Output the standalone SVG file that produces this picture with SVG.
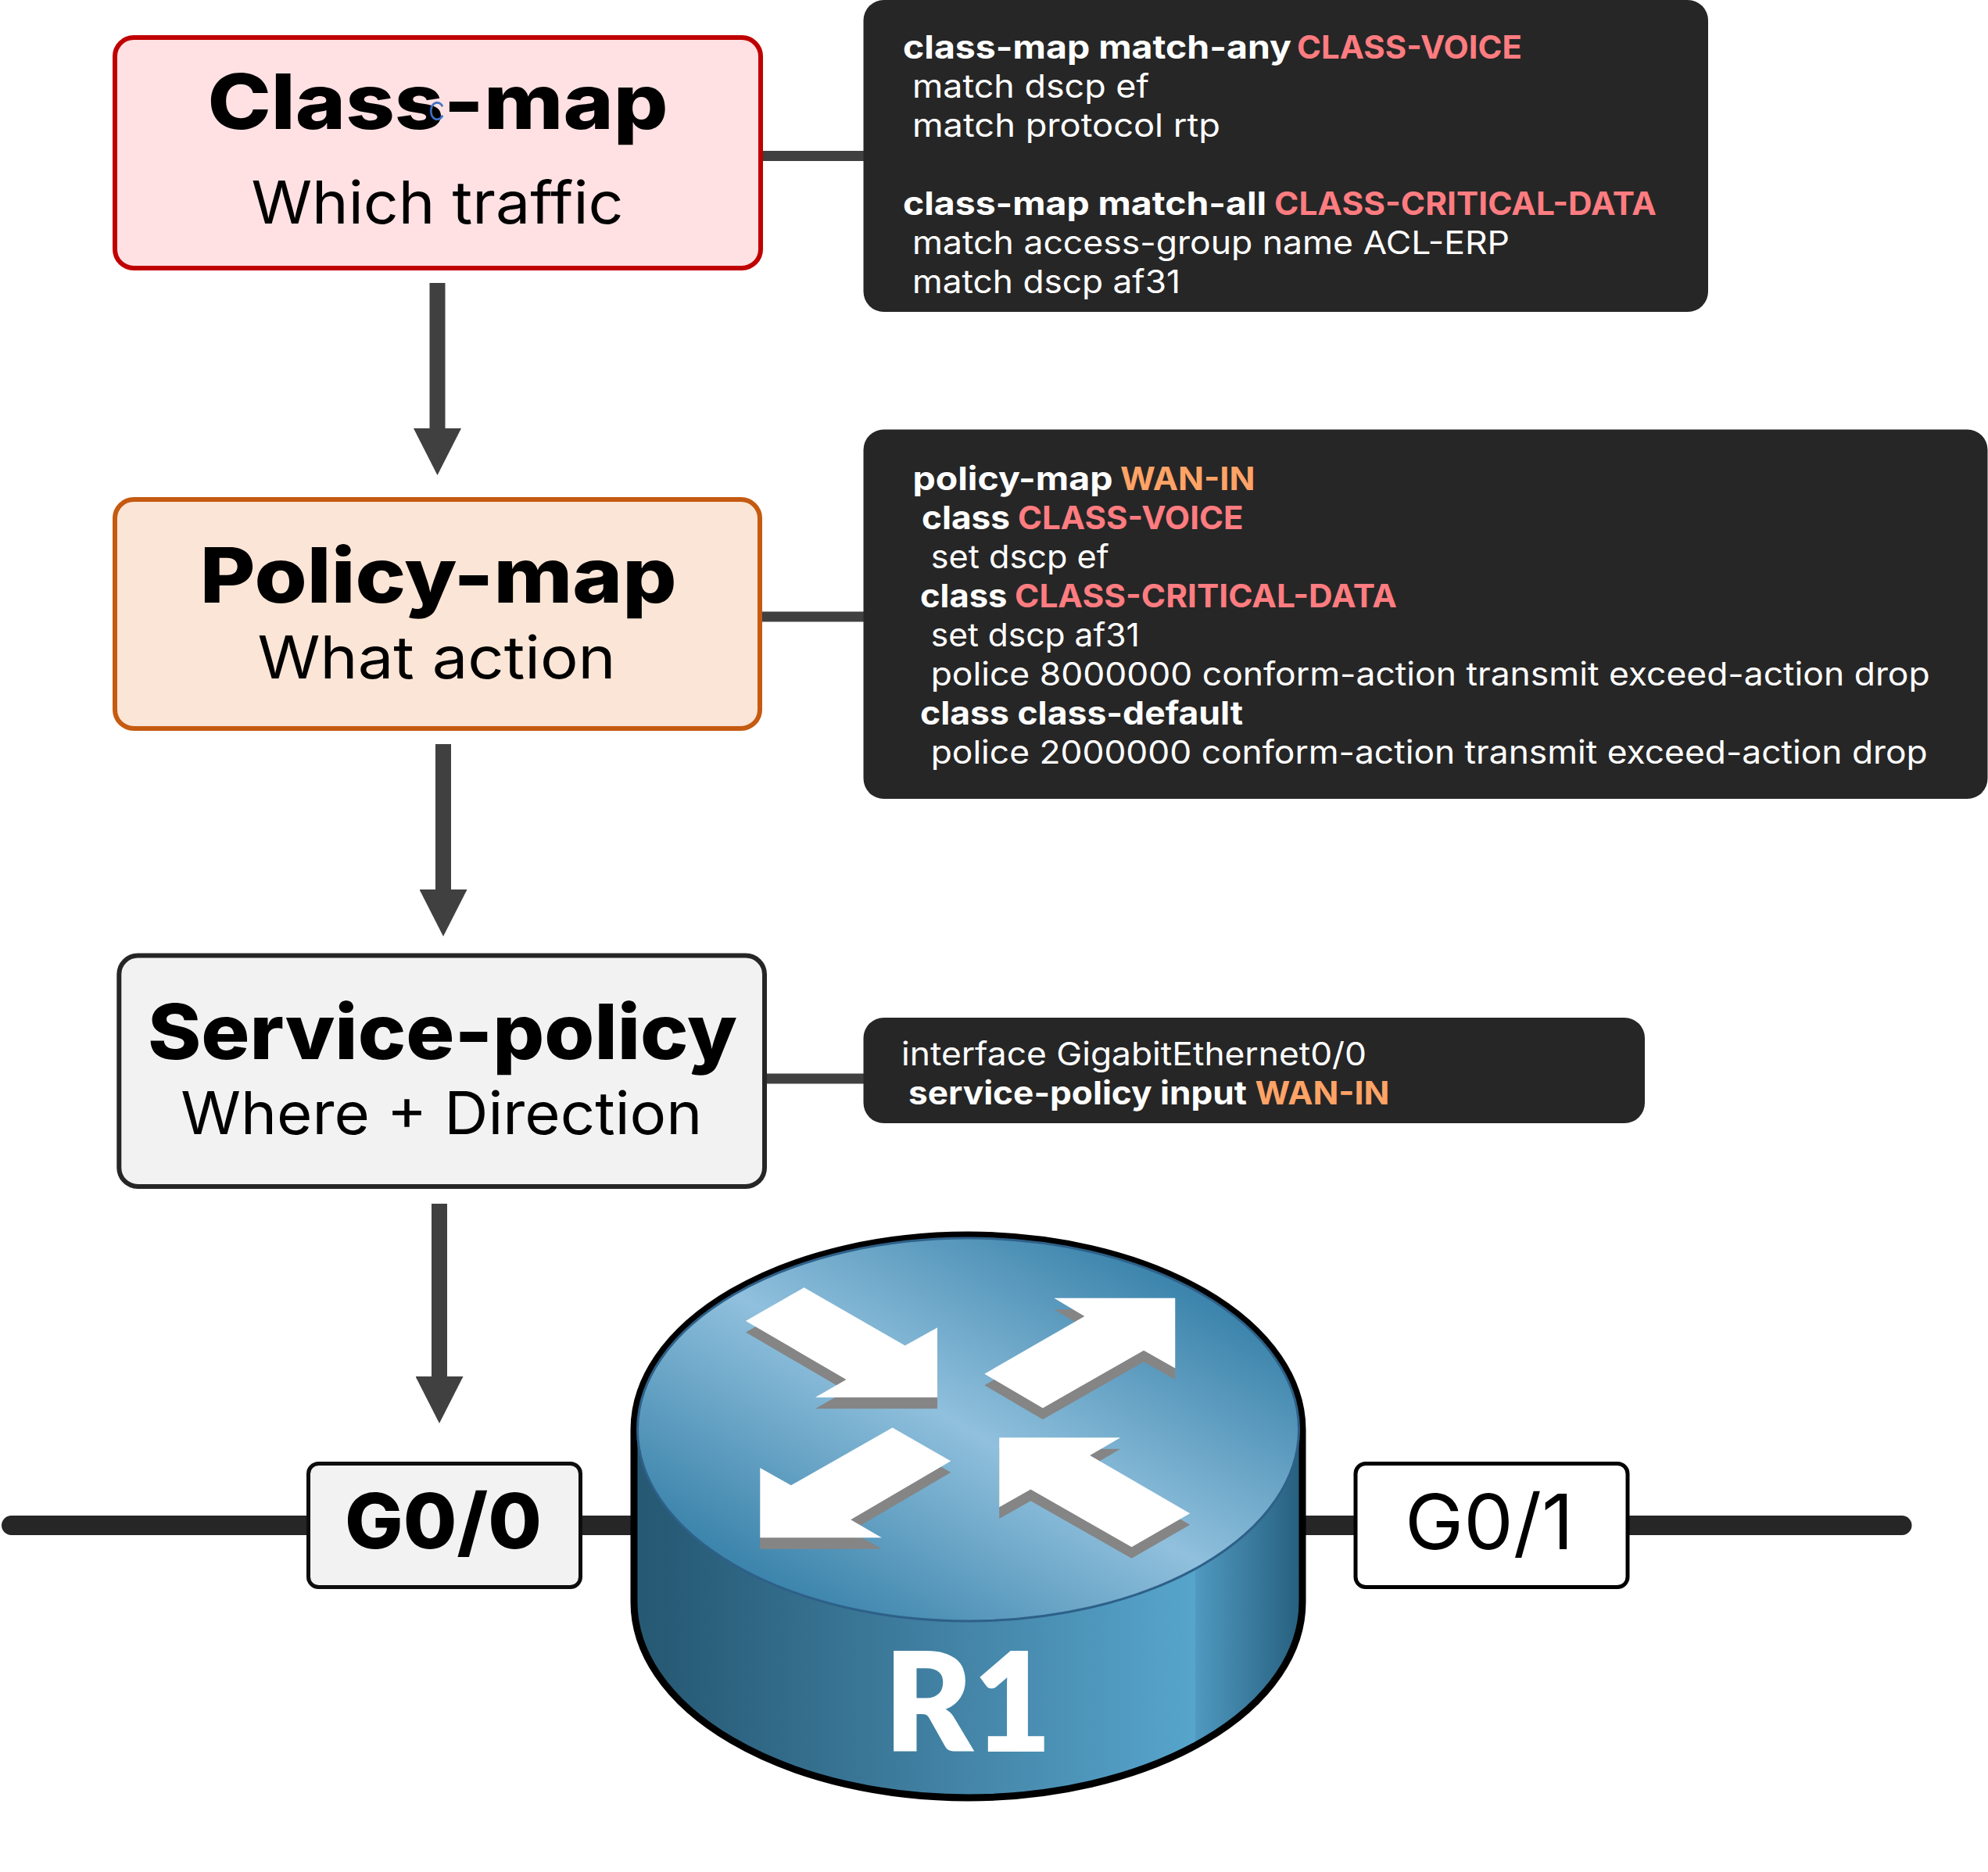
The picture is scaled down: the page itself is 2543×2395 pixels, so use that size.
<svg xmlns="http://www.w3.org/2000/svg" width="2543" height="2395" viewBox="0 0 2543 2395">
<style>
text{font-family:"Inter","Noto Sans","Liberation Sans",sans-serif}
.h{font-size:98px;font-weight:800;fill:#000}
.s{font-size:75px;font-weight:400;fill:#000}
.p{font-size:41px;font-weight:400;fill:#fff}
.b{font-size:41px;font-weight:700;fill:#fff}
.r{font-size:41px;font-weight:700;fill:#ff7c80}
.o{font-size:41px;font-weight:700;fill:#ffa366}
.panel{fill:#262626}
.box{stroke-width:6}
.port{stroke-width:5}
.arrow{fill:none;stroke:#404040;stroke-width:20;marker-end:url(#head)}
.link{fill:none;stroke:#404040;stroke-width:13}
.wire{fill:none;stroke:#262626;stroke-width:25;stroke-linecap:round}
</style>
<defs>
<marker id="head" markerUnits="userSpaceOnUse" markerWidth="60" markerHeight="61" refX="0" refY="30.5" orient="auto"><polygon points="0,0 60,30.5 0,61" fill="#404040"/></marker>
<linearGradient id="top" x1="0" y1="1" x2="1" y2="0">
<stop offset=".155" stop-color="#3d85ac"/><stop offset=".5" stop-color="#90c0dd"/><stop offset=".845" stop-color="#3d85ac"/>
</linearGradient>
<linearGradient id="side" gradientUnits="userSpaceOnUse" x1="815" y1="0" x2="1662" y2="0">
<stop offset="0" stop-color="#265a74"/><stop offset=".05" stop-color="#275b76"/><stop offset=".5" stop-color="#4485a8"/><stop offset=".843" stop-color="#57a5cc"/><stop offset=".843" stop-color="#5099c0"/><stop offset="1" stop-color="#27607f"/>
</linearGradient>
<polygon id="a1" points="303,268 433,180 658,333 730,286 730,470 458,470 527,423"/>
<polygon id="a2" points="835,408 1058,256 990,208 1260,208 1260,393 1190,346 965,498"/>
<polygon id="a3" points="760,638 630,550 404,702 335,656 335,840 606,840 537,793"/>
<polygon id="a4" points="1293,776 1070,623 1138,576 868,576 868,760 938,713 1163,865"/>
</defs>
<rect width="2543" height="2395" fill="#fff"/>
<g id="connectors">
<path class="link" d="M976 199.500H1106"/>
<path class="link" d="M975 789H1106"/>
<path class="link" d="M981 1380H1106"/>
<path class="arrow" d="M559.500 362V548"/>
<path class="arrow" d="M567 952V1138"/>
<path class="arrow" d="M562 1540V1761"/>
<path class="wire" d="M14.500 1951.500H2433"/>
</g>
<g id="class-map">
<rect class="box" x="147" y="48" width="826" height="295" rx="24" fill="#ffe1e3" stroke="#c00000"/>
<text class="h" x="265.500" y="165" textLength="589" lengthAdjust="spacingAndGlyphs">Class-map</text>
<text class="s" x="321.500" y="286" textLength="476" lengthAdjust="spacingAndGlyphs">Which traffic</text>
<text x="548" y="154" font-size="44" font-weight="300" fill="#4472c4" textLength="21" lengthAdjust="spacingAndGlyphs">c</text>
</g>
<g id="policy-map">
<rect class="box" x="147" y="639" width="825" height="293" rx="24" fill="#fbe5d6" stroke="#c55a11"/>
<text class="h" x="255.700" y="770.600" textLength="610" lengthAdjust="spacingAndGlyphs">Policy-map</text>
<text class="s" x="329.600" y="868" textLength="458" lengthAdjust="spacingAndGlyphs">What action</text>
</g>
<g id="service-policy">
<rect class="box" x="152.300" y="1222.600" width="825.700" height="295.400" rx="24" fill="#f2f2f2" stroke="#262626"/>
<text class="h" x="189" y="1354.500" textLength="754" lengthAdjust="spacingAndGlyphs">Service-policy</text>
<text class="s" x="231.300" y="1451" textLength="667" lengthAdjust="spacingAndGlyphs">Where + Direction</text>
</g>
<g id="class-config">
<rect class="panel" x="1104.500" y="0" width="1080.500" height="399" rx="26"/>
<text class="b" x="1155" y="75" textLength="497" lengthAdjust="spacingAndGlyphs">class-map match-any</text>
<text class="r" x="1659" y="75" textLength="288" lengthAdjust="spacingAndGlyphs">CLASS-VOICE</text>
<text class="p" x="1167" y="125" textLength="303" lengthAdjust="spacingAndGlyphs">match dscp ef</text>
<text class="p" x="1167" y="175" textLength="394" lengthAdjust="spacingAndGlyphs">match protocol rtp</text>
<text class="b" x="1155" y="275" textLength="465" lengthAdjust="spacingAndGlyphs">class-map match-all</text>
<text class="r" x="1630" y="275" textLength="489" lengthAdjust="spacingAndGlyphs">CLASS-CRITICAL-DATA</text>
<text class="p" x="1167" y="325" textLength="764" lengthAdjust="spacingAndGlyphs">match access-group name ACL-ERP</text>
<text class="p" x="1167" y="375" textLength="343" lengthAdjust="spacingAndGlyphs">match dscp af31</text>
</g>
<g id="policy-config">
<rect class="panel" x="1104.500" y="549.500" width="1438" height="472.500" rx="26"/>
<text class="b" x="1167.500" y="626.700" textLength="256" lengthAdjust="spacingAndGlyphs">policy-map</text>
<text class="o" x="1433" y="626.700" textLength="172.500" lengthAdjust="spacingAndGlyphs">WAN-IN</text>
<text class="b" x="1179" y="676.700" textLength="113" lengthAdjust="spacingAndGlyphs">class</text>
<text class="r" x="1302" y="676.700" textLength="288.500" lengthAdjust="spacingAndGlyphs">CLASS-VOICE</text>
<text class="p" x="1190.700" y="726.700" textLength="228" lengthAdjust="spacingAndGlyphs">set dscp ef</text>
<text class="b" x="1177" y="776.700" textLength="111.500" lengthAdjust="spacingAndGlyphs">class</text>
<text class="r" x="1298" y="776.700" textLength="489" lengthAdjust="spacingAndGlyphs">CLASS-CRITICAL-DATA</text>
<text class="p" x="1190.700" y="826.700" textLength="267" lengthAdjust="spacingAndGlyphs">set dscp af31</text>
<text class="p" x="1190.700" y="876.700" textLength="1278" lengthAdjust="spacingAndGlyphs">police 8000000 conform-action transmit exceed-action drop</text>
<text class="b" x="1177" y="926.700" textLength="413" lengthAdjust="spacingAndGlyphs">class class-default</text>
<text class="p" x="1190.700" y="976.700" textLength="1275" lengthAdjust="spacingAndGlyphs">police 2000000 conform-action transmit exceed-action drop</text>
</g>
<g id="service-config">
<rect class="panel" x="1104.500" y="1302" width="999.500" height="135" rx="26"/>
<text class="p" x="1153" y="1362.700" textLength="595" lengthAdjust="spacingAndGlyphs">interface GigabitEthernet0/0</text>
<text class="b" x="1162" y="1412.700" textLength="433" lengthAdjust="spacingAndGlyphs">service-policy input</text>
<text class="o" x="1605.500" y="1412.700" textLength="172" lengthAdjust="spacingAndGlyphs">WAN-IN</text>
</g>
<g id="g0-0">
<rect class="port" x="394.500" y="1872.500" width="348" height="158" rx="13" fill="#f2f2f2" stroke="#0d0d0d"/>
<text x="441" y="1981" font-size="98" font-weight="800" fill="#000" textLength="252" lengthAdjust="spacingAndGlyphs">G0/0</text>
</g>
<g id="g0-1">
<rect class="port" x="1734" y="1872.500" width="348" height="158" rx="13" fill="#fff" stroke="#000"/>
<text x="1797" y="1981.700" font-size="98" font-weight="400" fill="#000" textLength="216" lengthAdjust="spacingAndGlyphs">G0/1</text>
</g>
<g id="router-r1">
<path d="M811 1829A427.500 249 0 0 1 1666 1829V2050A427.500 250 0 0 1 811 2050Z" fill="url(#side)" stroke="#000" stroke-width="9"/>
<ellipse cx="1238.500" cy="1829" rx="423" ry="245" fill="url(#top)" stroke="#2e6088" stroke-width="3"/>
<g transform="translate(780 1560) scale(.574 .4847)">
<g fill="#858585" transform="translate(0 30)"><use href="#a1"/><use href="#a2"/><use href="#a3"/><use href="#a4"/></g>
<g fill="#fff"><use href="#a1"/><use href="#a2"/><use href="#a3"/><use href="#a4"/></g>
</g>
<text x="1131" y="2241" font-size="176" font-weight="800" fill="#fff" style="font-family:'Lato','Noto Sans',sans-serif" textLength="214" lengthAdjust="spacingAndGlyphs">R1</text>
</g>
</svg>
